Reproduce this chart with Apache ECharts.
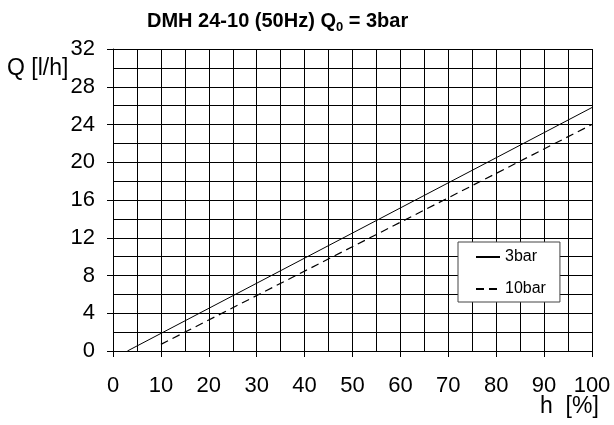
<!DOCTYPE html>
<html>
<head>
<meta charset="utf-8">
<script src="https://cdn.jsdelivr.net/npm/echarts@6/dist/echarts.min.js"></script>
<style>html,body{margin:0;padding:0;background:#fff}#c{width:614px;height:425px}</style>
</head>
<body>
<div id="c"></div>
<script>
// Data
const seriesNames = ['3bar', '10bar'];
const strokeHeight = [3, 100];          // h [%] at endpoints of 3bar line
const flow3bar = [0, 25.8];              // Q [l/h]
const strokeHeight10 = [10, 100];       // h [%] at endpoints of 10bar line
const flow10bar = [0.7, 24.0];           // Q [l/h]
const xTicks = [0, 10, 20, 30, 40, 50, 60, 70, 80, 90, 100];
const yTicks = [0, 4, 8, 12, 16, 20, 24, 28, 32];

const FONT = 'Liberation Sans, Arial, sans-serif';
const chart = echarts.init(document.getElementById('c'), null, {renderer: 'canvas'});

const toPairs = (xs, ys) => xs.map((x, i) => [x, ys[i]]);

chart.setOption({
  animation: false,
  backgroundColor: '#fff',
  title: {
    text: 'DMH 24-10 (50Hz) Q{sub|0} = 3bar',
    left: 142, top: 4,
    textStyle: {
      fontFamily: FONT, fontSize: 20, fontWeight: 'bold', color: '#000',
      rich: { sub: { fontFamily: FONT, fontSize: 13, fontWeight: 'bold', color: '#000', padding: [12, 0, 0, 0] } }
    }
  },
  grid: { left: 113, right: 22, top: 49, bottom: 74, containLabel: false },
  legend: {
    data: seriesNames,
    orient: 'vertical',
    left: 458, top: 242,
    padding: [6, 14, 4, 17],
    itemGap: 14,
    itemWidth: 24, itemHeight: 14,
    backgroundColor: '#fff',
    borderColor: '#444', borderWidth: 1,
    itemStyle: { opacity: 0 },
    textStyle: { fontFamily: FONT, fontSize: 16, color: '#000', lineHeight: 18 }
  },
  xAxis: {
    type: 'value', min: xTicks[0], max: xTicks[xTicks.length - 1], interval: 10,
    axisLine: { show: true, lineStyle: { color: '#000', width: 1 } },
    axisTick: { show: true, length: 6, lineStyle: { color: '#000' } },
    axisLabel: { fontFamily: FONT, fontSize: 22, color: '#000', margin: 24 },
    splitLine: { show: true, lineStyle: { color: '#000', width: 1 } },
    minorTick: { show: false, splitNumber: 2 },
    minorSplitLine: { show: true, lineStyle: { color: '#000', width: 1 } }
  },
  yAxis: {
    type: 'value', min: yTicks[0], max: yTicks[yTicks.length - 1], interval: 4,
    axisLine: { show: true, lineStyle: { color: '#000', width: 1 } },
    axisTick: { show: true, length: 6, lineStyle: { color: '#000' } },
    axisLabel: { fontFamily: FONT, fontSize: 22, color: '#000', margin: 18 },
    splitLine: { show: true, lineStyle: { color: '#000', width: 1 } },
    minorTick: { show: false, splitNumber: 2 },
    minorSplitLine: { show: true, lineStyle: { color: '#000', width: 1 } }
  },
  graphic: [
    { type: 'text', left: 7, top: 57, style: { text: 'Q [l/h]', fontFamily: FONT, fontSize: 23, fill: '#000' } },
    { type: 'text', left: 540, top: 395, style: { text: 'h  [%]', fontFamily: FONT, fontSize: 23, fill: '#000' } }
  ],
  series: [
    {
      name: seriesNames[0], type: 'line', data: toPairs(strokeHeight, flow3bar),
      symbol: 'none', lineStyle: { color: '#000', width: 1, type: 'solid' }, itemStyle: { color: '#000' }
    },
    {
      name: seriesNames[1], type: 'line', data: toPairs(strokeHeight10, flow10bar),
      symbol: 'none', lineStyle: { color: '#000', width: 1.2, type: [8, 5] }, itemStyle: { color: '#000' }
    }
  ]
});
</script>
</body>
</html>
